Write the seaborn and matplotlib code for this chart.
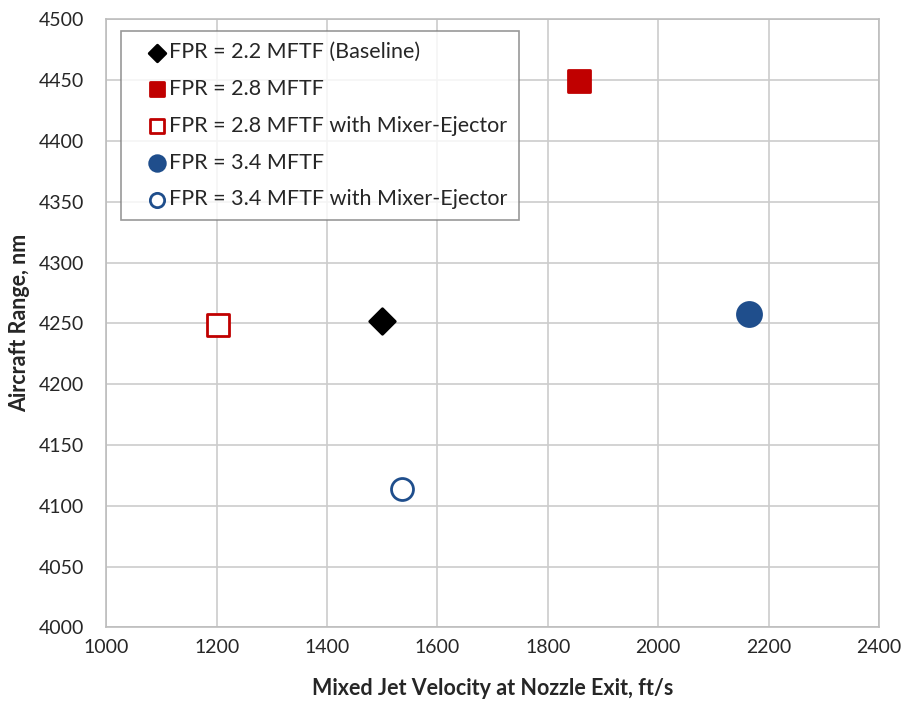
import pandas as pd
import numpy as np
import seaborn as sns
import matplotlib.pyplot as plt

# Values
labels = [
    "FPR = 2.2 MFTF (Baseline)",
    "FPR = 2.8 MFTF",
    "FPR = 2.8 MFTF with Mixer-Ejector",
    "FPR = 3.4 MFTF",
    "FPR = 3.4 MFTF with Mixer-Ejector",
]
jet_velocity = [1500, 1857, 1202, 2165, 1536]
aircraft_range = [4252, 4449, 4249, 4258, 4114]

# Styling per series
red = "#C00000"
blue = "#1F4E8C"
styles = {
    labels[0]: dict(marker="D", face="black", edge="black", s=170),
    labels[1]: dict(marker="s", face=red, edge=red, s=250),
    labels[2]: dict(marker="s", face="white", edge=red, s=250),
    labels[3]: dict(marker="o", face=blue, edge=blue, s=300),
    labels[4]: dict(marker="o", face="white", edge=blue, s=250),
}

df = pd.DataFrame({"label": labels, "x": jet_velocity, "y": aircraft_range})

sns.set_style("white")
plt.rcParams["font.family"] = ["Lato", "DejaVu Sans"]

fig = plt.figure(figsize=(9.08, 7.01), dpi=100)
ax = fig.add_axes([0.117, 0.105, 0.851, 0.8675])

for lab in labels:
    st = styles[lab]
    sns.scatterplot(data=df[df["label"] == lab], x="x", y="y", ax=ax,
                    marker=st["marker"], color=st["face"], edgecolor=st["edge"],
                    linewidth=2, s=st["s"], label=lab, zorder=3)

ax.set_xlim(1000, 2400)
ax.set_ylim(4000, 4500)
ax.set_xticks(np.arange(1000, 2401, 200))
ax.set_yticks(np.arange(4000, 4501, 50))
ax.grid(True, color="#CCCCCC", linewidth=1.2)
for sp in ax.spines.values():
    sp.set_color("#BDBDBD")
    sp.set_linewidth(1.2)
ax.tick_params(axis="y", labelsize=14, pad=16, length=0)
ax.tick_params(axis="x", labelsize=14, pad=8, length=0)
ax.set_xlabel("Mixed Jet Velocity at Nozzle Exit, ft/s", fontsize=15.5,
              fontweight="bold", labelpad=16)
ax.set_ylabel("Aircraft Range, nm", fontsize=15.5, fontweight="bold", labelpad=6)

leg = ax.legend(loc="upper left", bbox_to_anchor=(0.0185, 0.98), borderaxespad=0,
                fontsize=15.5, frameon=True, fancybox=False, handlelength=2.37,
                handletextpad=-0.6, labelspacing=0.78, borderpad=0.5,
                markerscale=0.65)
leg.get_frame().set_edgecolor("#7F7F7F")
leg.get_frame().set_linewidth(1.2)

fig.savefig("out.png", dpi=100)
